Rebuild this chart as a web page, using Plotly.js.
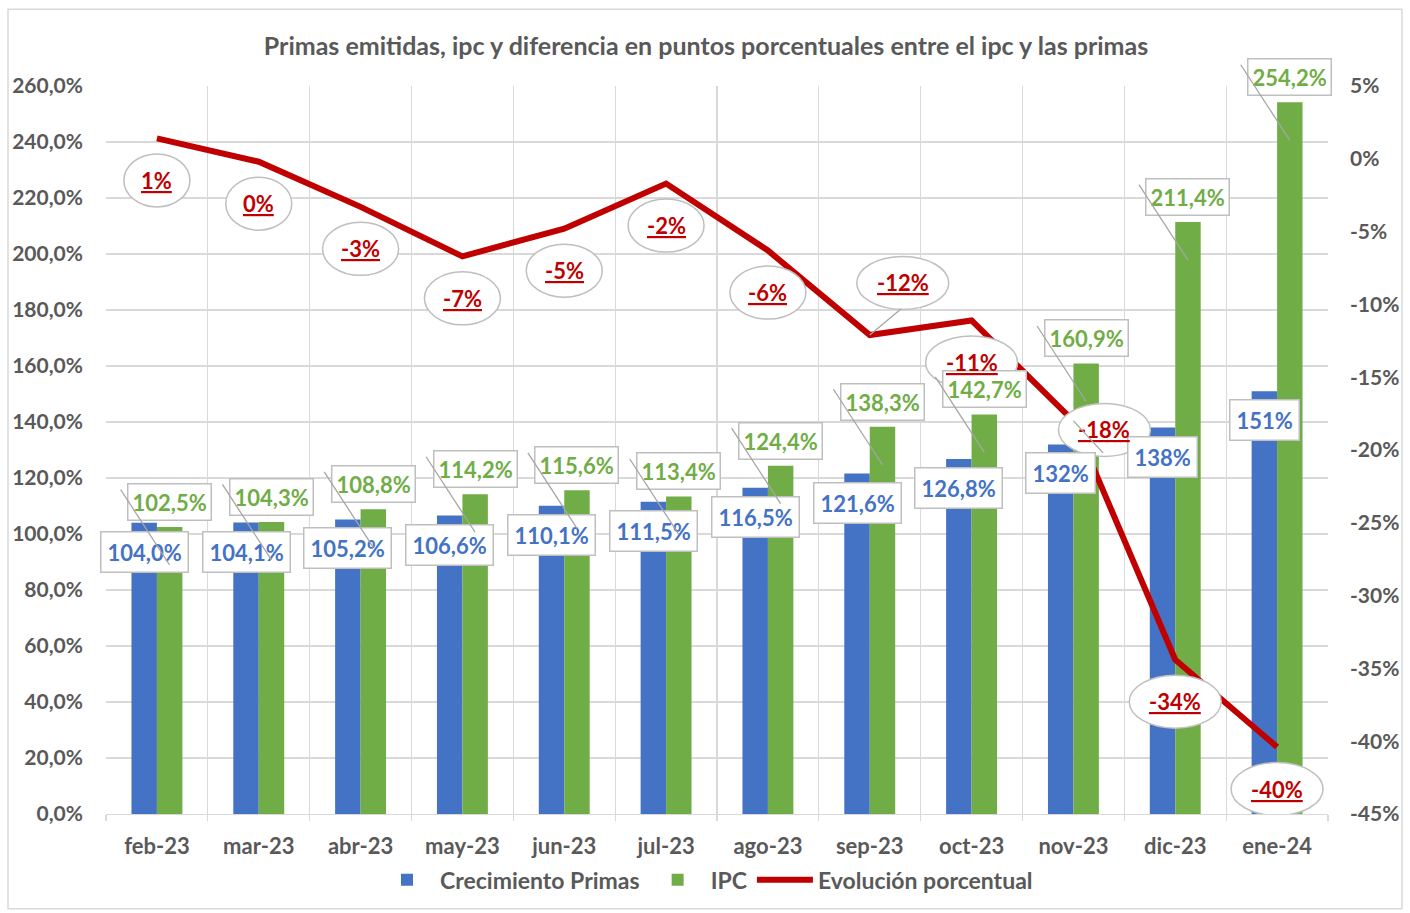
<!DOCTYPE html>
<html><head><meta charset="utf-8">
<script src="https://cdn.plot.ly/plotly-3.0.1.min.js"></script>
<style>html,body{margin:0;padding:0;background:#fff}#chart{width:1410px;height:913px}</style>
</head><body><div id="chart"></div>
<script>
// ---- data ----
const categories = ['feb-23','mar-23','abr-23','may-23','jun-23','jul-23','ago-23','sep-23','oct-23','nov-23','dic-23','ene-24'];
const primas = [104.0,104.1,105.2,106.6,110.1,111.5,116.5,121.6,126.8,132,138,151];
const primasDecimals = [1,1,1,1,1,1,1,1,1,0,0,0];
const ipc = [102.5,104.3,108.8,114.2,115.6,113.4,124.4,138.3,142.7,160.9,211.4,254.2];
const evolucion = [1.4,-0.2,-3.3,-6.7,-4.8,-1.7,-6.3,-12.1,-11.1,-18.0,-34.4,-40.4];
const leftTicks = [0,20,40,60,80,100,120,140,160,180,200,220,240,260];
const rightTicks = [5,0,-5,-10,-15,-20,-25,-30,-35,-40,-45];
const seriesNames = ['Crecimiento Primas','IPC','Evolución porcentual'];
const titleText = 'Primas emitidas, ipc y diferencia en puntos porcentuales entre el ipc y las primas';

// ---- style ----
const COL = {blue:'#4472C4', green:'#70AD47', red:'#C00000', text:'#595959', grid:'#D9D9D9', box:'#BFBFBF', leader:'#A6A6A6'};
const FONT = 'Lato, "Open Sans", sans-serif';
const M = {l:106, r:82, t:86, b:97};
const W = 1410, H = 913;
const PW = W - M.l - M.r, PH = H - M.t - M.b;
const HALF_BAR = 12.7;
const FS = 22;
const redOffsets = {7:[33,-52], 9:[31,9]}; // special label placements (px), default below point
const fmt = (v, d) => v.toFixed(d).replace('.', ',') + '%';

const traces = [
  {type:'bar', name:seriesNames[0], x:categories, y:primas, marker:{color:COL.blue}, hoverinfo:'skip'},
  {type:'bar', name:seriesNames[1], x:categories, y:ipc, marker:{color:COL.green}, hoverinfo:'skip'},
  {type:'scatter', mode:'lines', name:seriesNames[2], x:categories, y:evolucion, yaxis:'y2',
   line:{color:COL.red, width:6}, hoverinfo:'skip'}
];

const annotations = [];
const shapes = [];
const boxFont = (c) => ({family:FONT, size:FS, color:c, weight:'bold'});

// blue labels
categories.forEach((c,i) => {
  annotations.push({x:c, y:primas[i], xref:'x', yref:'y', xshift:-HALF_BAR, yshift:-29,
    text:fmt(primas[i], primasDecimals[i]), showarrow:false, font:boxFont(COL.blue),
    bgcolor:'#fff', bordercolor:COL.box, borderwidth:1.5, borderpad:6});
});
// green labels
categories.forEach((c,i) => {
  annotations.push({x:c, y:ipc[i], xref:'x', yref:'y', xshift:HALF_BAR, yshift:25,
    text:fmt(ipc[i], 1), showarrow:false, font:boxFont(COL.green),
    bgcolor:'#fff', bordercolor:COL.box, borderwidth:1.5, borderpad:4});
});
// green leader lines
categories.forEach((c,i) => {
  annotations.push({x:c, y:ipc[i], xref:'x', yref:'y', xshift:HALF_BAR, yshift:-38,
    text:'', showarrow:true, arrowhead:0, arrowwidth:1.3, arrowcolor:COL.leader,
    ax:-50, ay:-77, standoff:0, startstandoff:0});
});
// red labels in ellipses
categories.forEach((c,i) => {
  const off = redOffsets[i] || [0,42];
  const txt = `${Math.round(evolucion[i])}%`;
  const w = txt.length <= 2 ? 66 : (txt.length === 3 ? 76 : 92);
  const h = 53;
  shapes.push({type:'circle', xref:'x', yref:'y2', xsizemode:'pixel', ysizemode:'pixel',
    xanchor:c, yanchor:evolucion[i], x0:off[0]-w/2, x1:off[0]+w/2, y0:-off[1]-h/2, y1:-off[1]+h/2,
    fillcolor:'#fff', line:{color:COL.box, width:1.5}, layer:'above'});
  annotations.push({x:c, y:evolucion[i], xref:'x', yref:'y2', xshift:off[0], yshift:-off[1],
    text:`<u>${txt}</u>`, showarrow:false, font:boxFont(COL.red)});
  if (redOffsets[i]) {
    annotations.push({x:c, y:evolucion[i], xref:'x', yref:'y2', text:'', showarrow:true,
      arrowhead:0, arrowwidth:1.3, arrowcolor:COL.leader, ax:off[0], ay:off[1]+h/2-2, standoff:0});
  }
});
// outer chart border
shapes.push({type:'rect', xref:'paper', yref:'paper', layer:'below',
  x0:(8-M.l)/PW, x1:(1402-M.l)/PW, y0:(M.t+PH-911)/PH, y1:1+(M.t-9)/PH,
  line:{color:COL.grid, width:1.5}, fillcolor:'rgba(0,0,0,0)'});

const yTickFont = {family:FONT, size:21, color:COL.text, weight:'bold'};
const xTickFont = {family:FONT, size:22, color:COL.text, weight:'bold'};

const layout = {
  width:W, height:H, margin:M, paper_bgcolor:'#fff', plot_bgcolor:'#fff',
  separators:',.',
  title:{text:titleText, x:706/W, xref:'container', y:1-46/H, yref:'container', yanchor:'middle', xanchor:'center',
    font:{family:FONT, size:25, color:COL.text, weight:'bold'}, automargin:false},
  barmode:'group', bargap:0.5, bargroupgap:0,
  showlegend:true,
  legend:{orientation:'h', x:(706-M.l)/PW, xanchor:'center', y:-(882-M.t-PH)/PH, yanchor:'middle',
    font:{family:FONT, size:23, color:COL.text, weight:'bold'}, itemwidth:56, traceorder:'normal'},
  xaxis:{type:'category', range:[-0.5, categories.length-0.5], autorange:false,
    tickson:'boundaries', showgrid:true, gridcolor:COL.grid, gridwidth:1.3, automargin:false,
    ticks:'outside', ticklen:6, tickcolor:COL.grid, tickwidth:1.3, showline:true, linecolor:COL.grid, linewidth:1.3,
    tickfont:xTickFont, ticklabelstandoff:12, fixedrange:true},
  yaxis:{range:[0,260], autorange:false, tickvals:leftTicks, ticktext:leftTicks.map(v => fmt(v,1)), showgrid:true, gridcolor:COL.grid, gridwidth:1.3,
    zeroline:false, showline:false, ticks:'', tickfont:yTickFont, ticklabelstandoff:22, automargin:false, fixedrange:true},
  yaxis2:{overlaying:'y', side:'right', range:[-45,5], autorange:false, tickvals:rightTicks, ticktext:rightTicks.map(v => v + '%'),
    showgrid:false, zeroline:false, showline:false, ticks:'', tickfont:yTickFont, ticklabelstandoff:21, automargin:false, fixedrange:true},
  annotations:annotations,
  shapes:shapes
};

Plotly.newPlot('chart', traces, layout, {displayModeBar:false, staticPlot:true});
</script></body></html>
